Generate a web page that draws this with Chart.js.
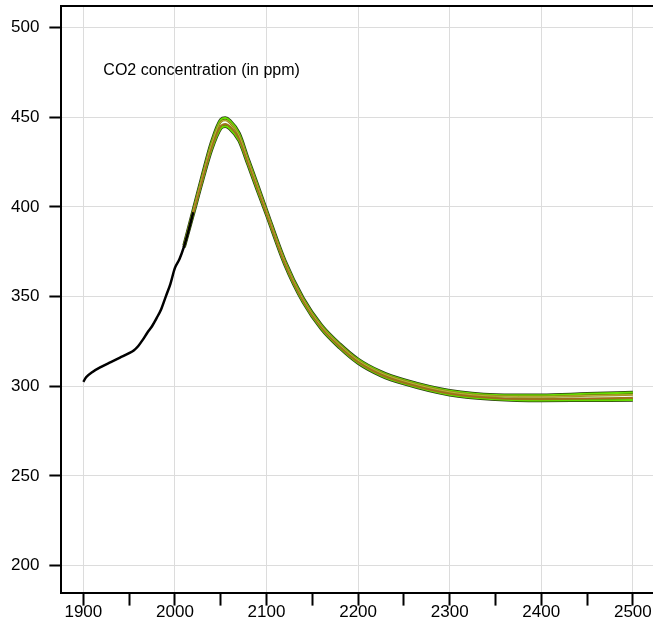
<!DOCTYPE html>
<html>
<head>
<meta charset="utf-8">
<script src="https://cdn.jsdelivr.net/npm/chart.js@4"></script>
<style>
  html, body { margin: 0; padding: 0; background: #fff; }
  #wrap { width: 653px; height: 631px; }
</style>
</head>
<body>
<div id="wrap"><canvas id="chart"></canvas></div>
<script>
// observed record (black line)
const histYears = [1900, 1903, 1910, 1920, 1930, 1940, 1950, 1955, 1960, 1965, 1970, 1975, 1980, 1985, 1990, 1995, 2000, 2005, 2010, 2015, 2020];
const histCO2 = [302.5, 305, 308, 311, 313.5, 316, 318.5, 320, 322.5, 326, 330, 333.5, 338, 343, 350, 357, 366, 371, 378, 387, 397];

// projected ensemble (green band)
const projYears = [2010, 2020, 2030, 2040, 2050, 2055, 2060, 2070, 2080, 2090, 2100, 2120, 2140, 2160, 2180, 2200, 2225, 2250, 2300, 2350, 2400, 2450, 2500];
const memberHigh = [378.5, 398, 417.5, 436, 448.5, 449.5, 448, 441, 426.5, 412.5, 398, 370, 349, 334, 323.5, 315, 308, 303.5, 297.5, 295.2, 295, 295.8, 296.5];
const memberMidHigh = [378.3, 397.5, 416.8, 435, 447.3, 448.3, 446.8, 439.8, 425.6, 411.6, 397.4, 369.4, 348.4, 333.4, 323, 314.5, 307.5, 303, 296.9, 294.5, 294.2, 294.8, 295.3];
const memberMidLow = [377.8, 396.5, 415.4, 433, 445, 446.2, 444.8, 438, 424.4, 410.4, 396.4, 368.6, 347.6, 332.6, 322, 313.5, 306.5, 302, 295.9, 293.4, 292.9, 293.2, 293.5];
const memberLow = [377.5, 396, 414.7, 432, 443.8, 445, 443.6, 437, 423.5, 409.5, 395.8, 368, 347, 332, 321.5, 313, 306, 301.5, 295.3, 292.8, 292.1, 292.2, 292.3];

const xTicks = [1900, 1950, 2000, 2050, 2100, 2150, 2200, 2250, 2300, 2350, 2400, 2450, 2500];
const yTicks = [200, 250, 300, 350, 400, 450, 500];

const toPoints = (xs, ys) => xs.map((x, i) => ({ x: x, y: ys[i] }));

function line(xs, ys, color, width, order) {
  return {
    data: toPoints(xs, ys),
    borderColor: color,
    borderWidth: width,
    pointRadius: 0,
    cubicInterpolationMode: "monotone",
    fill: false,
    order: order,
  };
}

// top frame line + annotation text
const framePlugin = {
  id: "frame",
  afterDraw(chart) {
    const { ctx, chartArea } = chart;
    ctx.save();
    ctx.strokeStyle = "#000";
    ctx.lineWidth = 2;
    ctx.beginPath();
    ctx.moveTo(chartArea.left - 1, chartArea.top);
    ctx.lineTo(chartArea.right, chartArea.top);
    ctx.stroke();
    ctx.fillStyle = "#000";
    ctx.font = "16px 'Liberation Sans', Arial, sans-serif";
    ctx.textBaseline = "middle";
    ctx.fillText("CO2 concentration (in ppm)", chartArea.left + 42, chartArea.top + 65);
    ctx.restore();
  },
};

new Chart(document.getElementById("chart"), {
  type: "line",
  data: {
    datasets: [
      line(projYears, memberHigh, "#2b3a12", 3.5, 20),
      line(projYears, memberLow, "#2b3a12", 3.5, 19),
      line(projYears, memberHigh, "#66dd00", 2, 18),
      line(projYears, memberLow, "#66dd00", 2, 17),
      line(projYears, memberMidHigh, "#8c8a10", 2.2, 16),
      line(projYears, memberMidLow, "#8c8a10", 2.2, 15),
      line(projYears, memberMidHigh, "#c9b84a", 0.8, 14),
      line(projYears, memberMidLow, "#b5562a", 0.8, 13),
      line(histYears, histCO2, "#000000", 2.5, 1),
    ],
  },
  options: {
    responsive: true,
    maintainAspectRatio: false,
    animation: false,
    layout: { padding: { top: 6, right: 0, left: 1, bottom: 11 } },
    plugins: {
      legend: { display: false },
      tooltip: { enabled: false },
    },
    scales: {
      x: {
        type: "linear",
        min: 1876,
        max: 2522,
        afterBuildTicks: (axis) => { axis.ticks = xTicks.map((v) => ({ value: v })); },
        afterFit: (axis) => { axis.paddingLeft = 0; axis.paddingRight = 0; },
        ticks: {
          autoSkip: false,
          maxRotation: 0,
          color: "#000",
          padding: -3,
          font: { family: "'Liberation Sans', Arial, sans-serif", size: 17 },
          callback: (v) => (v % 100 === 0 ? String(v) : ""),
        },
        grid: {
          color: (c) => (c.tick && c.tick.value % 100 === 0 ? "#dcdcdc" : "rgba(0,0,0,0)"),
          lineWidth: 1,
          tickColor: "#000",
          tickLength: 13,
          tickWidth: 2,
        },
        border: { color: "#000", width: 2 },
      },
      y: {
        min: 185,
        max: 512,
        afterBuildTicks: (axis) => { axis.ticks = yTicks.map((v) => ({ value: v })); },
        afterFit: (axis) => { axis.paddingTop = 0; axis.paddingBottom = 0; },
        ticks: {
          color: "#000",
          padding: 10,
          font: { family: "'Liberation Sans', Arial, sans-serif", size: 17 },
        },
        grid: {
          color: "#dcdcdc",
          lineWidth: 1,
          tickColor: "#000",
          tickLength: 12,
          tickWidth: 2,
        },
        border: { color: "#000", width: 2 },
      },
    },
  },
  plugins: [framePlugin],
});
</script>
</body>
</html>
